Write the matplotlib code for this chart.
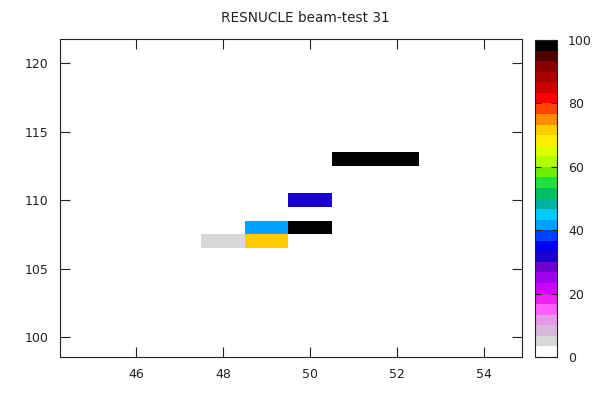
from matplotlib import pyplot as plt
from matplotlib.colors import ListedColormap, Normalize
import numpy as np

# cell centres and values (percent)
x_centres = [48, 49, 49, 50, 50, 51, 52]
y_centres = [107, 107, 108, 108, 110, 113, 113]
values = [5, 72, 42, 100, 32, 100, 100]

palette = ['#ffffff', '#d8d8d8', '#d8b8d8', '#e898e8', '#ff60ff', '#ee22ee',
           '#cc00ff', '#a000ee', '#7000cc', '#1a00cc', '#0000ee', '#0040ff',
           '#00a0ff', '#00ccff', '#00b0a0', '#00c060', '#20e040', '#70ee00',
           '#b0ff00', '#ddff00', '#ffee00', '#ffcc00', '#ff8c00', '#ff4400',
           '#ff0000', '#cc0000', '#aa0000', '#880000', '#500000', '#000000']
cbar_ticks = [0, 20, 40, 60, 80, 100]

cmap = ListedColormap(palette)
norm = Normalize(vmin=0, vmax=100)

# build a masked grid of unit bins
x_edges = np.arange(min(x_centres) - 0.5, max(x_centres) + 1.5, 1.0)
y_edges = np.arange(min(y_centres) - 0.5, max(y_centres) + 1.5, 1.0)
grid = np.full((len(y_edges) - 1, len(x_edges) - 1), np.nan)
for xc, yc, v in zip(x_centres, y_centres, values):
    grid[int(yc - y_edges[0]), int(xc - x_edges[0])] = v
grid = np.ma.masked_invalid(grid)

plt.rcParams['font.family'] = 'DejaVu Sans'
plt.rcParams['font.size'] = 9

fig = plt.figure(figsize=(5.95, 4.18), dpi=100)
ax = fig.add_axes([60 / 595, 1 - 357 / 418, 462 / 595, 318 / 418])
cax = fig.add_axes([535 / 595, 1 - 357 / 418, 22 / 595, 317 / 418])

mesh = ax.pcolormesh(x_edges, y_edges, grid, cmap=cmap, norm=norm)
ax.set_xlim(44.25, 54.87)
ax.set_ylim(98.55, 121.75)
ax.set_xticks([46, 48, 50, 52, 54])
ax.set_yticks([100, 105, 110, 115, 120])
ax.tick_params(direction='in', length=7, width=0.8, top=True, right=True,
               pad=8, labelsize=9, colors='#222222')
for s in ax.spines.values():
    s.set_linewidth(0.8)
    s.set_color('#222222')

cb = fig.colorbar(mesh, cax=cax, ticks=cbar_ticks)
cb.outline.set_linewidth(0.8)
cb.outline.set_edgecolor('#222222')
cax.tick_params(direction='in', length=4, width=0.8, left=True, right=True,
                pad=8, labelsize=9, colors='#222222')

fig.text(305 / 595, 1 - 18 / 418, 'RESNUCLE beam-test 31', ha='center',
         va='center', fontsize=9.8, color='#222222')

plt.savefig('out.png', dpi=100)
